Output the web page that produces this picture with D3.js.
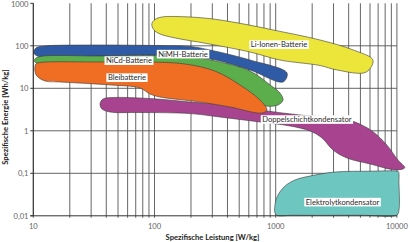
<!DOCTYPE html>
<html>
<head>
<meta charset="utf-8">
<script src="https://cdn.jsdelivr.net/npm/d3@7"></script>
<style>
  body { margin: 0; background: #fff; }
  svg { display: block; font-family: Lato, "Open Sans", sans-serif; }
</style>
</head>
<body>
<svg width="410" height="242"></svg>
<script>
// Outlines of each technology area: [W/kg, Wh/kg]
const liIonen = [[95, 326], [101, 416], [115, 476], [148, 489], [271, 444], [507, 338], [950, 236],
    [2320, 137], [4350, 80], [6350, 46], [5560, 24], [3200, 27], [2320, 34.4], [1084, 46.3],
    [614, 71.5], [271, 113], [148, 153], [111, 190], [99, 236]];
const nimh = [[10.1, 67.7], [10.5, 88.7], [12.5, 98.9], [24.3, 104], [91.8, 102], [196, 96.4],
    [287, 79.6], [614, 46.3], [1240, 22.9], [1150, 14.1], [614, 27], [321, 46.3], [196, 56],
    [91.8, 60.8], [35.5, 57.5], [11.4, 54.5]];
const nicd = [[10.3, 48.9], [11.4, 56], [35.5, 57.5], [91.8, 59.2], [196, 54.5], [321, 43.9],
    [614, 25.5], [898, 12], [1084, 7.75], [1150, 5.3], [1045, 4.05], [817, 3.84], [614, 5.3],
    [420, 9.1], [237, 20.6], [91.8, 35.3], [11.4, 37.3], [10.3, 41.6]];
const blei = [[10.5, 37.3], [11.4, 40.4], [35.5, 41.6], [91.8, 41.6], [179, 37.3], [315, 25.5],
    [507, 12], [741, 5.3], [847, 3.09], [771, 2.62], [420, 3.63], [237, 4.76], [111, 6.24],
    [91.8, 7.34], [75.9, 10.2], [43, 12], [16.6, 14.1], [12.5, 14.9], [10.7, 19.5], [10.3, 27]];
const doppelschicht = [[37.6, 5.6], [47.2, 6.08], [105, 5.6], [196, 4.76], [347, 4.16], [741, 3.09],
    [1585, 2.35], [3390, 2.0], [4510, 1.61], [6240, 0.99], [8280, 0.46], [10190, 0.206],
    [11600, 0.135], [9840, 0.12], [6000, 0.166], [3870, 0.229], [2970, 0.353], [2410, 0.678],
    [1920, 0.99], [1310, 1.3], [741, 1.61], [347, 2.11], [196, 2.55], [75.9, 2.7], [43, 2.77],
    [36.9, 3.26], [35.5, 4.27]];
const elektrolyt = [[1005, 0.0106], [986, 0.018], [1045, 0.0308], [1195, 0.0502], [1440, 0.0695],
    [1920, 0.0862], [3080, 0.107], [6000, 0.112], [9900, 0.113], [10300, 0.109], [10400, 0.06],
    [10400, 0.0135], [10000, 0.0104], [5000, 0.0103], [1400, 0.0103]];

const areas = [
    { name: 'Li-Ionen-Batterie', points: liIonen, color: '#ece53a', label: [1065, 107] },
    { name: 'NiMH-Batterie', points: nimh, color: '#2f5ba6', label: [172, 64] },
    { name: 'NiCd-Batterie', points: nicd, color: '#5cae4c', label: [61.6, 45] },
    { name: 'Doppelschichtkondensator', points: doppelschicht, color: '#a8448f', label: [1810, 1.85] },
    { name: 'Bleibatterie', points: blei, color: '#f06d24', label: [59.3, 17.9] },
    { name: 'Elektrolytkondensator', points: elektrolyt, color: '#6dc6bf', label: [3560, 0.0211] }
];

const xTicks = [10, 100, 1000, 10000];
const xTickLabels = ['10', '100', '1000', '10000'];
const yTicks = [0.01, 0.1, 1, 10, 100, 1000];
const yTickLabels = ['0,01', '0,1', '1', '10', '100', '1000'];

const svg = d3.select('svg');
const padding = { top: 3.3, left: 33.3, right: 396.9, bottom: 215.8 };

const xScale = d3.scaleLog().domain([10, 10000]).range([padding.left, padding.right]);
const yScale = d3.scaleLog().domain([0.01, 1000]).range([padding.bottom, padding.top]);

// Grid
const grid = svg.append('g');
const minorX = [];
for (let dec = 10; dec < 10000; dec *= 10) {
    for (let k = 1; k < 10; k++) minorX.push(dec * k);
}
minorX.push(10000);
grid.selectAll('line.vx')
    .data(minorX)
    .join('line')
    .attr('class', 'vx')
    .attr('x1', d => xScale(d)).attr('x2', d => xScale(d))
    .attr('y1', padding.top).attr('y2', padding.bottom + 2)
    .attr('stroke', '#555')
    .attr('stroke-width', 0.9);
grid.selectAll('line.hy')
    .data([0.1, 1, 10, 100])
    .join('line')
    .attr('class', 'hy')
    .attr('x1', padding.left).attr('x2', padding.right)
    .attr('y1', d => yScale(d)).attr('y2', d => yScale(d))
    .attr('stroke', '#555')
    .attr('stroke-width', 0.9);

// Areas
const area = d3.line()
    .x(d => xScale(d[0]))
    .y(d => yScale(d[1]))
    .curve(d3.curveCatmullRomClosed.alpha(0.5));

svg.selectAll('path.area')
    .data(areas)
    .join('path')
    .attr('class', 'area')
    .attr('d', d => area(d.points))
    .attr('fill', d => d.color)
    .attr('stroke', '#3a3a3a')
    .attr('stroke-width', 0.6);

// Area labels with white boxes
areas.forEach(a => {
    const g = svg.append('g')
        .attr('transform', `translate(${xScale(a.label[0])}, ${yScale(a.label[1])})`);
    const t = g.append('text')
        .text(a.name)
        .attr('y', 2.7)
        .attr('text-anchor', 'middle')
        .style('font-size', '7.6px')
        .attr('fill', '#2a2a2a');
    const w = t.node().getComputedTextLength();
    g.insert('rect', 'text')
        .attr('x', -w / 2 - 1.5)
        .attr('y', -4.2)
        .attr('width', w + 3)
        .attr('height', 8.6)
        .attr('fill', '#fff');
});

// Axes
svg.append('line')
    .attr('x1', padding.left).attr('x2', padding.left)
    .attr('y1', padding.top).attr('y2', padding.bottom)
    .attr('stroke', '#333');
svg.append('line')
    .attr('x1', padding.left - 3).attr('x2', padding.right)
    .attr('y1', padding.bottom).attr('y2', padding.bottom)
    .attr('stroke', '#333');
svg.selectAll('line.ytick')
    .data(yTicks)
    .join('line')
    .attr('class', 'ytick')
    .attr('x1', padding.left - 3).attr('x2', padding.left)
    .attr('y1', d => yScale(d)).attr('y2', d => yScale(d))
    .attr('stroke', '#333');

svg.selectAll('text.ylab')
    .data(yTicks)
    .join('text')
    .attr('class', 'ylab')
    .text((d, i) => yTickLabels[i])
    .attr('x', 28.5)
    .attr('y', d => Math.max(yScale(d) + 2.7, 7.2))
    .attr('text-anchor', 'end')
    .style('font-size', '7.6px')
    .attr('fill', '#666');
svg.selectAll('text.xlab')
    .data(xTicks)
    .join('text')
    .attr('class', 'xlab')
    .text((d, i) => xTickLabels[i])
    .attr('x', d => xScale(d))
    .attr('y', 228.5)
    .attr('text-anchor', 'middle')
    .style('font-size', '7.6px')
    .attr('fill', '#666');

// Axis titles
svg.append('text')
    .text('Spezifische Leistung [W/kg]')
    .attr('x', 212.5)
    .attr('y', 239.5)
    .attr('text-anchor', 'middle')
    .style('font-size', '7.6px')
    .style('font-weight', 'bold')
    .attr('fill', '#222');
svg.append('text')
    .text('Spezifische Energie [Wh/kg]')
    .attr('x', -117)
    .attr('y', 8)
    .attr('transform', 'rotate(-90)')
    .attr('text-anchor', 'middle')
    .style('font-size', '7.6px')
    .style('font-weight', 'bold')
    .attr('fill', '#222');
</script>
</body>
</html>
